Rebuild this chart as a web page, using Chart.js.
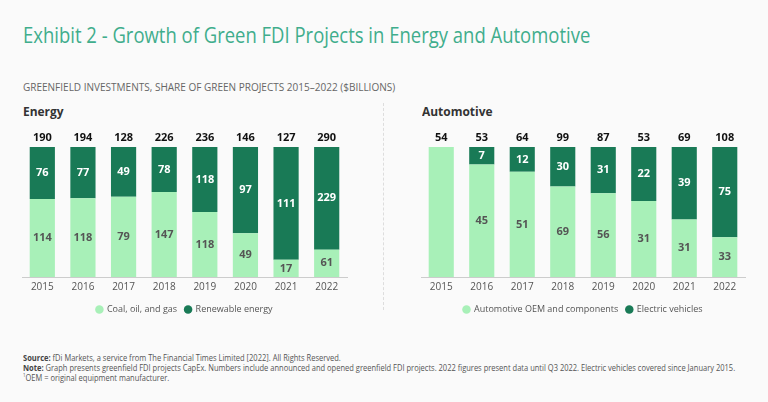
<!DOCTYPE html>
<html>
<head>
<meta charset="utf-8">
<script src="https://cdn.jsdelivr.net/npm/chart.js@4.4.0/dist/chart.umd.min.js"></script>
<style>
  body { margin: 0; background: #fafafa; width: 768px; height: 402px; overflow: hidden; position: relative; font-family: "Open Sans", sans-serif; }
  .t { position: absolute; white-space: nowrap; transform-origin: left top; }
  #title { left: 23px; top: 19px; font-size: 22px; color: #3fad8c; transform: scaleX(0.84); }
  #sub { left: 23px; top: 79px; font-size: 11px; color: #666; transform: scaleX(0.91); }
  .head { font-weight: bold; font-size: 13px; color: #333; top: 102px; transform: scaleX(0.92); }
  #divider { position: absolute; left: 383px; top: 103px; height: 207px; border-left: 1px dashed #ddd; }
  .foot { left: 23px; font-size: 8.5px; color: #555; transform: scaleX(0.884); }
  .foot b { color: #444; }
  canvas { position: absolute; }
</style>
</head>
<body>
<div class="t" id="title">Exhibit 2 - Growth of Green FDI Projects in Energy and Automotive</div>
<div class="t" id="sub">GREENFIELD INVESTMENTS, SHARE OF GREEN PROJECTS 2015–2022 ($BILLIONS)</div>
<div class="t head" style="left:23px">Energy</div>
<div class="t head" style="left:422px">Automotive</div>
<div id="divider"></div>
<div style="position:absolute;left:0;top:120px;width:384px;height:208px"><canvas id="energy"></canvas></div>
<div style="position:absolute;left:384px;top:120px;width:384px;height:208px"><canvas id="auto"></canvas></div>
<div class="t foot" style="top:352px"><b>Source:</b> fDi Markets, a service from The Financial Times Limited [2022]. All Rights Reserved.</div>
<div class="t foot" style="top:362px"><b>Note:</b> Graph presents greenfield FDI projects CapEx. Numbers include announced and opened greenfield FDI projects. 2022 figures present data until Q3 2022. Electric vehicles covered since January 2015.</div>
<div class="t foot" style="top:372px"><sup style="font-size:5px">1</sup>OEM = original equipment manufacturer.</div>
<script>
const years = ['2015', '2016', '2017', '2018', '2019', '2020', '2021', '2022'];

const energyCoal = [114, 118, 79, 147, 118, 49, 17, 61];
const energyRenew = [76, 77, 49, 78, 118, 97, 111, 229];
const energyTotal = [190, 194, 128, 226, 236, 146, 127, 290];

const autoOem = [54, 45, 51, 69, 56, 31, 31, 33];
const autoEv = [0, 7, 12, 30, 31, 22, 39, 75];
const autoTotal = [54, 53, 64, 99, 87, 53, 69, 108];

const LIGHT = '#a8f0b8';
const DARK = '#197a56';

// bars are drawn as share of the year's total, labels show the $bn values
function share(a, b) {
    return a.map((v, i) => v / (a[i] + b[i]));
}

const labelPlugin = {
    id: 'barLabels',
    afterDatasetsDraw(chart, args, opts) {
        const ctx = chart.ctx;
        ctx.save();
        ctx.textAlign = 'center';
        ctx.textBaseline = 'middle';
        ctx.font = 'bold 11px "Open Sans"';
        chart.data.datasets.forEach((ds, di) => {
            const meta = chart.getDatasetMeta(di);
            meta.data.forEach((bar, i) => {
                const v = ds.raw[i];
                if (!v || v === opts.totals[i]) return;
                ctx.fillStyle = di === 0 ? '#555' : '#fff';
                ctx.fillText(v, bar.x, (bar.y + bar.base) / 2);
            });
        });
        // totals above each bar
        const top = chart.getDatasetMeta(chart.data.datasets.length - 1);
        const first = chart.getDatasetMeta(0);
        ctx.fillStyle = '#111';
        first.data.forEach((bar, i) => {
            const y = Math.min(bar.y, top.data[i].y);
            ctx.fillText(opts.totals[i], bar.x, y - 9);
        });
        ctx.restore();
    }
};

function makeChart(id, lowName, highName, low, high, totals, padLeft, padRight) {
    return new Chart(document.getElementById(id), {
        type: 'bar',
        data: {
            labels: years,
            datasets: [
                { label: lowName, raw: low, data: share(low, high), backgroundColor: LIGHT },
                { label: highName, raw: high, data: share(high, low), backgroundColor: DARK }
            ]
        },
        options: {
            responsive: true,
            maintainAspectRatio: false,
            animation: false,
            barPercentage: 1,
            categoryPercentage: 0.62,
            layout: { padding: { top: 27, left: padLeft, right: padRight, bottom: 4 } },
            scales: {
                x: {
                    stacked: true,
                    grid: { display: false, drawTicks: false },
                    border: { color: '#ccc' },
                    ticks: { color: '#555', font: { size: 10, family: 'Open Sans' }, padding: 4 }
                },
                y: { stacked: true, display: false, min: 0, max: 1 }
            },
            plugins: {
                legend: {
                    position: 'bottom',
                    labels: {
                        usePointStyle: true, pointStyle: 'circle', boxWidth: 6, boxHeight: 6,
                        color: '#555', font: { size: 9, family: 'Open Sans' }, padding: 8
                    }
                },
                tooltip: { enabled: false },
                barLabels: { totals: totals }
            }
        },
        plugins: [labelPlugin]
    });
}

makeChart('energy', 'Coal, oil, and gas', 'Renewable energy', energyCoal, energyRenew, energyTotal, 22, 37);
makeChart('auto', 'Automotive OEM and components', 'Electric vehicles', autoOem, autoEv, autoTotal, 37, 23);
</script>
</body>
</html>
